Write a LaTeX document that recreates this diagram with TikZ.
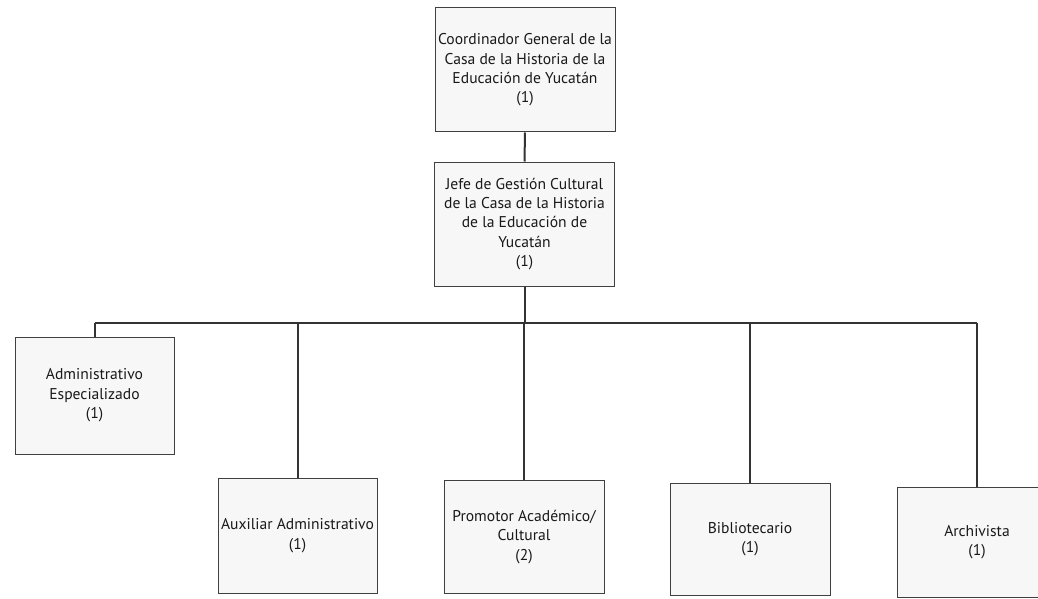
\documentclass[tikz,border=0pt]{standalone}
\usepackage{fontspec}
\setmainfont{PT Sans}
\begin{document}
\begin{tikzpicture}[x=1pt,y=-1pt,
  box/.style={draw=black!75, line width=1pt, fill=black!3, rectangle, align=center,
    inner sep=0pt, font=\fontsize{15.6}{19.4}\selectfont, text=black!90},
  conn/.style={draw=black!80, line width=2pt}]
\useasboundingbox (0,0) rectangle (1038,599);
\fill[white] (0,0) rectangle (1038,599);
\node[box, minimum width=180pt, minimum height=124pt] (coord) at (525,70)
  {Coordinador General de la\\Casa de la Historia de la\\Educación de Yucatán\\(1)};
\node[box, minimum width=180pt, minimum height=124pt] (jefe) at (524.5,224)
  {Jefe de Gestión Cultural\\de la Casa de la Historia\\de la Educación de\\Yucatán\\(1)};
\node[box, minimum width=159pt, minimum height=117pt] (adm) at (94.5,395.5)
  {Administrativo\\Especializado\\(1)};
\node[box, minimum width=159pt, minimum height=115pt] (aux) at (297.5,535.5)
  {Auxiliar Administrativo\\(1)};
\node[box, minimum width=160pt, minimum height=113pt] (prom) at (524,537)
  {Promotor Académico/\\Cultural\\(2)};
\node[box, minimum width=160pt, minimum height=112pt] (bib) at (750,539)
  {Bibliotecario\\(1)};
\node[box, minimum width=160pt, minimum height=110pt] (arch) at (977,542)
  {Archivista\\(1)};
\coordinate (busL) at (94.5,323);
\coordinate (busR) at (977,323);
\draw[conn] (coord.south) -- (jefe.north);
\draw[conn] (jefe.south) -- (jefe.south |- busL);
\draw[conn] (busL) -- (busR);
\draw[conn] (busL) -- (adm.north);
\draw[conn] (aux.north |- busL) -- (aux.north);
\draw[conn] (prom.north |- busL) -- (prom.north);
\draw[conn] (bib.north |- busL) -- (bib.north);
\draw[conn] (busR) -- (arch.north);
\end{tikzpicture}
\end{document}
